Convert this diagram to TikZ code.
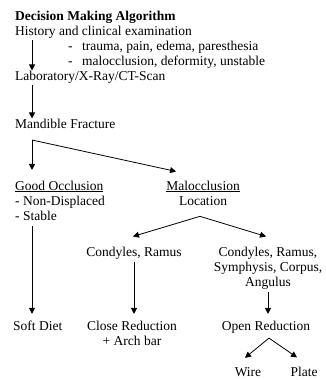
\documentclass[tikz,border=0pt]{standalone}
\usepackage{fontspec}
\setmainfont{Liberation Serif}
\usetikzlibrary{arrows.meta,positioning,calc}

\begin{document}
\begin{tikzpicture}[x=1bp, y=1bp]
    \tikzstyle{txt} = [inner sep=0pt, font=\fontsize{13.5bp}{15bp}\selectfont, align=left]
    \tikzstyle{arr} = [line width=0.8pt, -{Triangle[length=6bp, width=6bp]}, draw=black]

    \useasboundingbox (0,0) rectangle (326,-380);

    % left column (multi-line nodes sit on their last line)
    \node [txt, anchor=base west] (title) at (15,-20) {\textbf{Decision Making Algorithm}};
    \node [txt, anchor=base west] (hist) at ([yshift=-15bp]title.base west) {History and clinical examination};
    \node [txt, anchor=base west] (symp) at ([xshift=53bp, yshift=-15bp]hist.base west) {\begin{tabular}[t]{@{}l@{\hspace{9.5bp}}l@{}}-&trauma, pain, edema, paresthesia\\-&malocclusion, deformity, unstable\end{tabular}};
    \node [txt, anchor=base west] (lab) at ([yshift=-45bp]hist.base west) {Laboratory/X-Ray/CT-Scan};
    \node [txt, anchor=base west] (mand) at ([yshift=-48bp]lab.base west) {Mandible Fracture};
    \node [txt, anchor=base west] (good) at ([yshift=-92bp]mand.base west) {\underline{Good Occlusion}\\- Non-Displaced\\- Stable};
    \node [txt, anchor=base west] (soft) at ([xshift=-2bp, yshift=-110bp]good.base west) {Soft Diet};

    % right side
    \node [txt, anchor=base, align=center] (malo) at ([xshift=188bp, yshift=15bp]good.base west) {\underline{Malocclusion}\\Location};
    \node [txt, anchor=base] (condl) at (134,-256) {Condyles, Ramus};
    \node [txt, anchor=base, align=center] (condr) at (268,-286) {Condyles, Ramus,\\Symphysis, Corpus,\\Angulus};
    \node [txt, anchor=base, align=center] (close) at (132,-345) {Close Reduction\\+ Arch bar};
    \node [txt, anchor=base] (open) at (266,-330) {Open Reduction};
    \node [txt, anchor=base] (wire) at (248,-376) {Wire};
    \node [txt, anchor=base] (plate) at (304,-376) {Plate};

    \coordinate (split) at ([xshift=17bp, yshift=-12bp]mand.base west);
    \coordinate (fork) at ([xshift=-3bp, yshift=-11bp]malo.south);
    \coordinate (fork3) at ([xshift=3bp, yshift=-5bp]open.south);
    \coordinate (gl) at ([xshift=17bp]good.south west);

    \draw [arr, shorten <=2bp] ([xshift=17bp]hist.south west) -- ([xshift=17bp]lab.north west);
    \draw [arr, shorten <=2bp] ([xshift=17bp]lab.south west) -- ([xshift=17bp]mand.north west);
    \draw [arr, shorten >=10.5bp] (split) -- (split |- good.north);
    \draw [arr] (split) -- ([xshift=10bp, yshift=9bp]malo.north west);
    \draw [arr] (fork) -- ([xshift=-1bp, yshift=10bp]condl.north);
    \draw [arr] (fork) -- ([xshift=-2bp, yshift=10bp]condr.north);
    \draw [arr, shorten <=6bp, shorten >=6.5bp] (gl) -- (gl |- soft.north);
    \draw [arr, shorten <=3bp, shorten >=6.5bp] (condl.south) -- (condl.south |- close.north);
    \draw [arr, shorten <=3bp, shorten >=6.5bp] (condr.south) -- (condr.south |- open.north);
    \draw [arr] (fork3) -- ([xshift=-3bp, yshift=9bp]wire.north);
    \draw [arr] (fork3) -- ([xshift=-7bp, yshift=9bp]plate.north);
\end{tikzpicture}
\end{document}
